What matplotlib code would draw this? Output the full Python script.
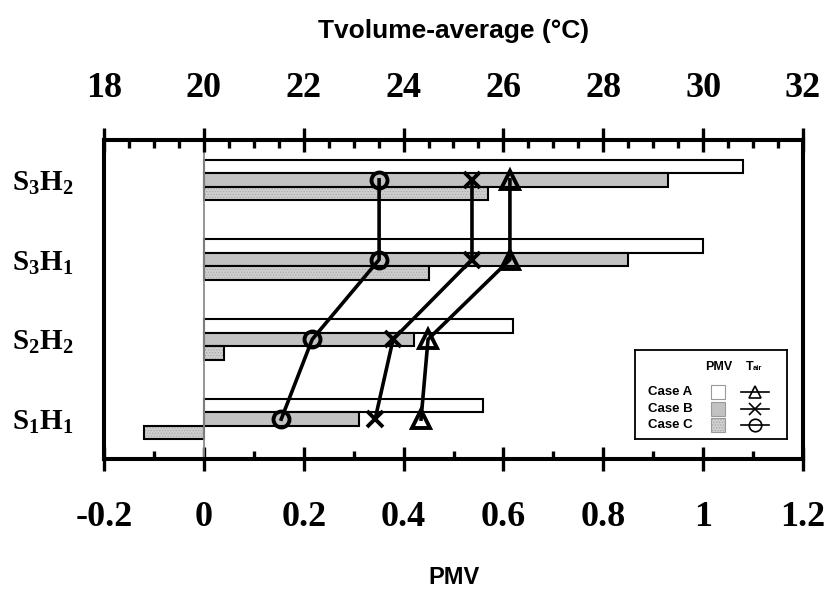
import matplotlib.pyplot as plt
from matplotlib.patches import Rectangle
from matplotlib.ticker import MultipleLocator

# categories bottom -> top
cases = ["S1H1", "S2H2", "S3H1", "S3H2"]
case_labels = [r"$\mathbf{S_1H_1}$", r"$\mathbf{S_2H_2}$", r"$\mathbf{S_3H_1}$", r"$\mathbf{S_3H_2}$"]

# PMV bars
pmv_a = [0.56, 0.62, 1.00, 1.08]
pmv_b = [0.31, 0.42, 0.85, 0.93]
pmv_c = [-0.12, 0.04, 0.45, 0.57]

# T_air (volume average, degC)
tair_a = [24.35, 24.49, 26.13, 26.13]
tair_b = [23.43, 23.79, 25.37, 25.37]
tair_c = [21.55, 22.17, 23.51, 23.51]

pmv_ticks = [-0.2, 0, 0.2, 0.4, 0.6, 0.8, 1, 1.2]
pmv_ticklabels = ["-0.2", "0", "0.2", "0.4", "0.6", "0.8", "1", "1.2"]
t_ticks = [18, 20, 22, 24, 26, 28, 30, 32]

plt.rcParams["mathtext.fontset"] = "custom"
plt.rcParams["mathtext.rm"] = "Liberation Serif:bold"
plt.rcParams["mathtext.bf"] = "Liberation Serif:bold"
plt.rcParams["hatch.linewidth"] = 0.6

SERIF = "Liberation Serif"
SANS = "Liberation Sans"

fig = plt.figure(figsize=(8.25, 5.91), dpi=100)
ax = fig.add_axes([104 / 825, 1 - 459 / 591, 699 / 825, 319 / 591])

y = list(range(len(cases)))
h = 0.17
ya = [v + h for v in y]
yc = [v - h for v in y]

ax.barh(ya, pmv_a, height=h, color="white", edgecolor="black", linewidth=1.5, zorder=2)
ax.barh(y, pmv_b, height=h, color="#c2c2c2", edgecolor="black", linewidth=1.5, zorder=2)
ax.barh(yc, pmv_c, height=h, color="#cfcfcf", edgecolor="#a8a8a8", hatch="......", linewidth=0, zorder=2)
ax.barh(yc, pmv_c, height=h, color="none", edgecolor="black", linewidth=1.5, zorder=2)

ax.axvline(0, color="#8c8c8c", linewidth=1.3, zorder=3)

ax.set_xlim(-0.2, 1.2)
ax.set_ylim(-0.5, 3.5)
ax.set_xticks(pmv_ticks)
ax.set_xticklabels(pmv_ticklabels, fontfamily=SERIF, fontweight="bold", fontsize=26)
ax.xaxis.set_minor_locator(MultipleLocator(0.1))
ax.set_yticks(y)
ax.set_yticklabels(case_labels, fontsize=21)
ax.tick_params(axis="y", length=0, pad=22)
ax.tick_params(axis="x", which="major", direction="inout", length=17, width=2.4, pad=22)
ax.tick_params(axis="x", which="minor", direction="in", length=5.5, width=2.4)
ax.set_xlabel("PMV", fontfamily=SANS, fontweight="bold", fontsize=17, labelpad=23)

ax2 = ax.twiny()
ax2.set_xlim(18, 32)
ax2.set_xticks(t_ticks)
ax2.set_xticklabels([str(t) for t in t_ticks], fontfamily=SERIF, fontweight="bold", fontsize=26)
ax2.xaxis.set_minor_locator(MultipleLocator(0.5))
ax2.tick_params(axis="x", which="major", direction="inout", length=17, width=2.4, pad=17)
ax2.tick_params(axis="x", which="minor", direction="in", length=5.5, width=2.4)
ax2.set_xlabel("Tvolume-average (°C)", fontfamily=SANS, fontweight="bold", fontsize=19, labelpad=24)

for a in (ax, ax2):
    for s in a.spines.values():
        s.set_linewidth(2.9)

ax2.plot(tair_a, y, color="black", lw=2.6, marker="^", ms=13, mew=2.8, mfc="none", zorder=5)
ax2.plot(tair_b, y, color="black", lw=2.6, marker="x", ms=11, mew=2.8, zorder=5)
ax2.plot(tair_c, y, color="black", lw=2.6, marker="o", ms=11.5, mew=2.8, mfc="none", zorder=5)

# legend box, drawn in pixel units
lg = fig.add_axes([635 / 825, 1 - 439 / 591, 152 / 825, 89 / 591])
lg.set_xlim(0, 152)
lg.set_ylim(89, 0)
lg.set_xticks([])
lg.set_yticks([])
for s in lg.spines.values():
    s.set_linewidth(1.3)

lg.text(84, 17, "PMV", fontfamily=SANS, fontweight="bold", fontsize=9, ha="center", va="center")
lg.text(111, 17, "T", fontfamily=SANS, fontweight="bold", fontsize=9, ha="left", va="center")
lg.text(118, 19, "air", fontfamily=SANS, fontweight="bold", fontsize=5.5, ha="left", va="center")

rows = [42, 59, 75]
names = ["Case A", "Case B", "Case C"]
fills = ["white", "#c2c2c2", "#cfcfcf"]
hatches = [None, None, "......"]
markers = ["^", "x", "o"]
for r, name, fc, hc, mk in zip(rows, names, fills, hatches, markers):
    lg.text(13, r, name, fontfamily=SANS, fontweight="bold", fontsize=9.5, ha="left", va="center")
    if hc:
        lg.add_patch(Rectangle((76, r - 7), 14, 14, facecolor=fc, edgecolor="#a8a8a8", hatch=hc, linewidth=0))
        lg.add_patch(Rectangle((76, r - 7), 14, 14, facecolor="none", edgecolor="#9a9a9a", linewidth=0.8))
    else:
        lg.add_patch(Rectangle((76, r - 7), 14, 14, facecolor=fc, edgecolor="#9a9a9a", linewidth=0.8))
    lg.plot([106, 134], [r, r], color="black", lw=1.2)
    lg.plot([120], [r], color="black", marker=mk, ms=9, mew=1.2, mfc="none")

plt.savefig("out.png", dpi=100)
